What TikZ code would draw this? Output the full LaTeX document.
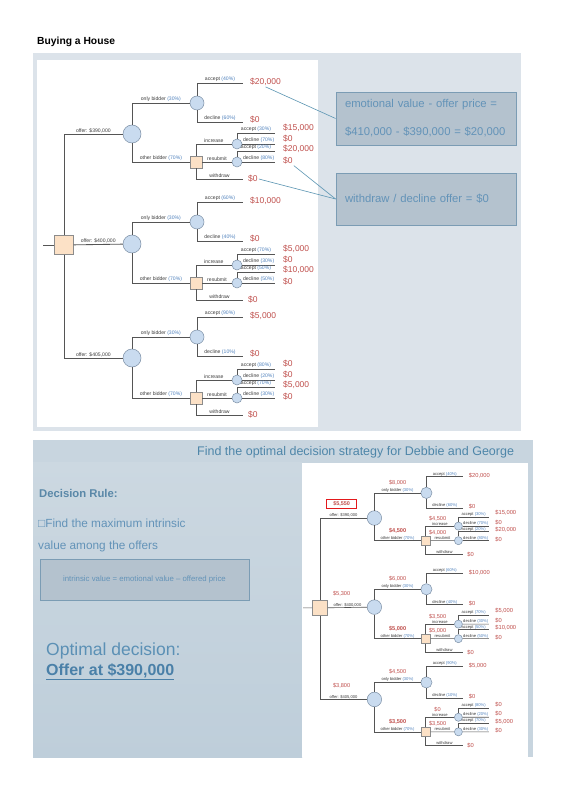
\documentclass[tikz,border=0pt]{standalone}
\usepackage{fontspec}
\setmainfont{Liberation Sans}
\usetikzlibrary{calc}

\definecolor{paneltop}{HTML}{DCE3EA}
\definecolor{panelbot}{HTML}{C8D5DF}
\definecolor{panelbotA}{HTML}{CCD8E1}
\definecolor{panelbotB}{HTML}{BECEDA}
\definecolor{branchc}{HTML}{555555}
\definecolor{circf}{HTML}{C9DBEF}
\definecolor{circb}{HTML}{7D90A6}
\definecolor{decf}{HTML}{FCE1C6}
\definecolor{decb}{HTML}{8C8C8C}
\definecolor{lblc}{HTML}{3C3C3C}
\definecolor{pctblue}{HTML}{4F81BD}
\definecolor{valred}{HTML}{C0504D}
\definecolor{redbox}{HTML}{E3191C}
\definecolor{boxf}{HTML}{B4C2CE}
\definecolor{boxb}{HTML}{7B9CB4}
\definecolor{boxtext}{HTML}{6393B8}
\definecolor{connc}{HTML}{5A94B2}
\definecolor{titleblue}{HTML}{4E86A9}
\definecolor{rulec}{HTML}{5A88A8}
\definecolor{optc}{HTML}{5B90B5}
\definecolor{offc}{HTML}{4A80A8}

\newif\ifshowev
\newcommand\pc[1]{{\color{pctblue}(#1\%)}}

% data: only%, accept%, accept value, other%, inc accept%, inc value, res accept%, res value
\newcommand\offerdata[8]{\def\dOnly{#1}\def\dAcc{#2}\def\vAcc{#3}\def\dOther{#4}\def\dIA{#5}\def\vIA{#6}\def\dRA{#7}\def\vRA{#8}}
\newcommand\evdata[5]{\def\evOffer{#1}\def\evOnly{#2}\def\evOther{#3}\def\evInc{#4}\def\evRes{#5}}

% #1 prefix, #2 Y, #3 only dy, #4 other dy, #5 offer text, #6 path op, #7 label pos
\newcommand\offerbranch[7]{%
 \pgfmathsetmacro\yO{#2}%
 \pgfmathsetmacro\yOn{#2+(#3)}%
 \pgfmathsetmacro\yOt{#2+(#4)}%
 \pgfmathsetmacro\yI{\yOt-18}%
 \pgfmathsetmacro\yW{\yOt+17}%
 \pgfmathsetmacro\yAa{\yOn-20}%
 \pgfmathsetmacro\yAd{\yOn+19}%
 \pgfmathsetmacro\yIa{\yI-11}%
 \pgfmathsetmacro\yRa{\yOt-11}%
 \pgfmathtruncatemacro\dDec{100-\dAcc}%
 \pgfmathtruncatemacro\dID{100-\dIA}%
 \pgfmathtruncatemacro\dRD{100-\dRA}%
 \node[chance] (#1c) at (68,\yO) {};
 \draw[br] (\rootname) #6 node[lbl,pos=#7]{#5} (#1c);
 % only bidder
 \node[chsmall] (#1o) at (133,\yOn) {};
 \draw[br] (#1c) |- node[lbl,pos=.75]{only bidder \pc{\dOnly}} (#1o);
 \coordinate (#1oa) at (179,\yAa);
 \coordinate (#1od) at (179,\yAd);
 \draw[br] (#1o) |- node[lbl,pos=.75]{accept \pc{\dAcc}} (#1oa);
 \draw[br] (#1o) |- node[lbl,pos=.75]{decline \pc{\dDec}} (#1od);
 \node[val] (#1oav) at (185,\yAa-1) {\vAcc};
 \node[val] (#1odv) at (185,\yAd-2) {\$0};
 % other bidder
 \node[dec] (#1d) at (132,\yOt) {};
 \draw[br] (#1c) |- node[lbl,pos=.75]{other bidder \pc{\dOther}} (#1d);
 \node[chsub] (#1si) at (173,\yI) {};
 \node[chsub] (#1sr) at (173,\yOt) {};
 \coordinate (#1w) at (179,\yW);
 \draw[br] (#1d) |- node[lbl,pos=.75]{increase} (#1si);
 \draw[br] (#1d) -- node[lbl]{resubmit} (#1sr);
 \draw[br] (#1d) |- node[lbl,pos=.75]{withdraw} (#1w);
 \node[val] (#1wv) at (183,\yW) {\$0};
 % increase
 \coordinate (#1sia) at (211,\yIa);
 \coordinate (#1sid) at (211,\yI);
 \draw[br] (#1si) |- node[lbl,pos=.75]{accept \pc{\dIA}} (#1sia);
 \draw[br] (#1si) -- node[lbl]{decline \pc{\dID}} (#1sid);
 \node[val] (#1siav) at (218,\yIa-5) {\vIA};
 \node[val] (#1sidv) at (218,\yI-5) {\$0};
 % resubmit
 \coordinate (#1sra) at (211,\yRa);
 \coordinate (#1srd) at (211,\yOt);
 \draw[br] (#1sr) |- node[lbl,pos=.75]{accept \pc{\dRA}} (#1sra);
 \draw[br] (#1sr) -- node[lbl]{decline \pc{\dRD}} (#1srd);
 \node[val] (#1srav) at (218,\yRa-2) {\vRA};
 \node[val] (#1srdv) at (218,\yOt-1) {\$0};
 \ifshowev
  \node[evoffer] (#1ev) at (27,\yO-17) {\evOffer};
  \node[ev] (#1oev) at (97,\yOn-13) {\evOnly};
  \node[evb] (#1dev) at (97,\yOt-12) {\evOther};
  \node[ev] (#1iev) at (147,\yI-9) {\evInc};
  \node[ev] (#1rev) at (147,\yOt-10) {\evRes};
 \fi
}

\newcommand\drawtree[1]{%
 \node[decbig] (#1root) at (0,111) {};
 \coordinate (#1in) at (-21,111);
 \draw[br] (#1in) -- (#1root);
 \def\rootname{#1root}%
 \offerdata{30}{40}{\$20,000}{70}{30}{\$15,000}{20}{\$20,000}%
 \evdata{\$5,550}{\$8,000}{\$4,500}{\$4,500}{\$4,000}%
 \tikzset{evoffer/.style={evbox}}%
 \offerbranch{#1a}{0}{-31}{28}{offer: \$390,000}{|-}{0.75}%
 \offerdata{30}{60}{\$10,000}{70}{70}{\$5,000}{50}{\$10,000}%
 \evdata{\$5,300}{\$6,000}{\$5,000}{\$3,500}{\$5,000}%
 \tikzset{evoffer/.style={ev}}%
 \offerbranch{#1b}{110}{-22}{39}{offer: \$400,000}{--}{0.5}%
 \offerdata{30}{90}{\$5,000}{70}{80}{\$0}{70}{\$5,000}%
 \evdata{\$3,800}{\$4,500}{\$3,500}{\$0}{\$3,500}%
 \offerbranch{#1c}{224}{-21}{40}{offer: \$405,000}{|-}{0.75}%
}

\tikzset{
 br/.style={draw=branchc, line width=0.85pt},
 chance/.style={circle, draw=circb, fill=circf, line width=0.5pt, minimum size=18pt, inner sep=0pt},
 chsmall/.style={chance, minimum size=14pt},
 chsub/.style={chance, minimum size=10pt},
 dec/.style={rectangle, draw=decb, fill=decf, line width=0.5pt, minimum size=12pt, inner sep=0pt},
 decbig/.style={dec, minimum size=19pt},
 lbl/.style={above, font=\fontsize{5.1}{5.5}\selectfont, text=lblc, inner sep=0.7pt},
 val/.style={anchor=west, font=\fontsize{8.5}{9}\selectfont, text=valred, inner sep=1pt},
 ev/.style={font=\fontsize{7}{8}\selectfont, text=valred, inner sep=0.5pt},
 evb/.style={ev, font=\bfseries\fontsize{7}{8}\selectfont},
 evbox/.style={draw=redbox, line width=1.3pt, fill=white, font=\bfseries\fontsize{6.8}{7}\selectfont, text=valred, minimum width=38pt, minimum height=11pt, inner sep=0.5pt},
 evoffer/.style={ev},
 infobox/.style={draw=boxb, fill=boxf, line width=0.8pt},
 conn/.style={draw=connc, line width=0.6pt},
}

\begin{document}
\begin{tikzpicture}[x=1pt,y=-1pt]
\useasboundingbox (0,0) rectangle (564,799);
\fill[white] (0,0) rectangle (564,799);

% title
\node[anchor=west, font=\bfseries\fontsize{10.3}{12}\selectfont, inner sep=0pt] (title) at (37,42) {Buying a House};

% top panel
\fill[paneltop] (33,53) rectangle (521,431);
\fill[white] (37,60) rectangle (318,427);

\begin{scope}[shift={(64,134)}]
 \showevfalse
 \drawtree{T}
\end{scope}

\node[infobox, minimum width=180pt, minimum height=53pt, text width=162pt, align=left, inner xsep=9pt, text=boxtext, font=\fontsize{11.3}{28}\selectfont] (box1) at (426,118.5) {emotional value - offer price =\\ \$410,000 - \$390,000 = \$20,000};
\node[infobox, minimum width=180pt, minimum height=52pt, text width=162pt, align=left, inner xsep=9pt, text=boxtext, font=\fontsize{11.3}{14}\selectfont] (box2) at (426,199) {withdraw / decline offer = \$0};

\draw[conn] (Taoav.south) -- (box1.west);
\draw[conn] (Tasrdv.south east) -- (box2.west);
\draw[conn] (Tawv.east) -- (box2.west);

% bottom panel
\fill[panelbot] (33,440) rectangle (533,757);
\shade[top color=panelbotA, bottom color=panelbotB] (33,462) rectangle (302,757);
\fill[white] (302,463) rectangle (528,757);

\node[anchor=west, font=\fontsize{12.5}{14}\selectfont, text=titleblue, inner sep=0pt] (btitle) at (197,452) {Find the optimal decision strategy for Debbie and George};

\node[anchor=west, font=\bfseries\fontsize{11.3}{13}\selectfont, text=rulec, inner sep=0pt] (rule) at (39,493) {Decision Rule:};
\node[anchor=west, font=\fontsize{11.8}{14}\selectfont, text=boxtext, inner sep=0pt] (find1) at (38,523) {□Find the maximum intrinsic};
\node[anchor=west, font=\fontsize{11.8}{14}\selectfont, text=boxtext, inner sep=0pt] (find2) at (38,546) {value among the offers};
\node[infobox, minimum width=209pt, minimum height=41pt, text=boxtext, font=\fontsize{7.8}{9}\selectfont] (box3) at (144.5,579.5) {intrinsic value = emotional value -- offered price};

\node[anchor=west, font=\fontsize{17.5}{20}\selectfont, text=optc, inner sep=0pt] (opt1) at (46,651) {Optimal decision:};
\node[anchor=west, font=\bfseries\fontsize{16}{19}\selectfont, text=offc, inner sep=0pt] (opt2) at (46,672) {\underline{Offer at \$390,000}};

\begin{scope}[shift={(320,518)}, xscale=0.8, yscale=0.81, transform shape,
  val/.append style={font=\fontsize{7.2}{8}\selectfont},
  br/.append style={line width=0.6pt}]
 \showevtrue
 \drawtree{B}
\end{scope}
\end{tikzpicture}
\end{document}
